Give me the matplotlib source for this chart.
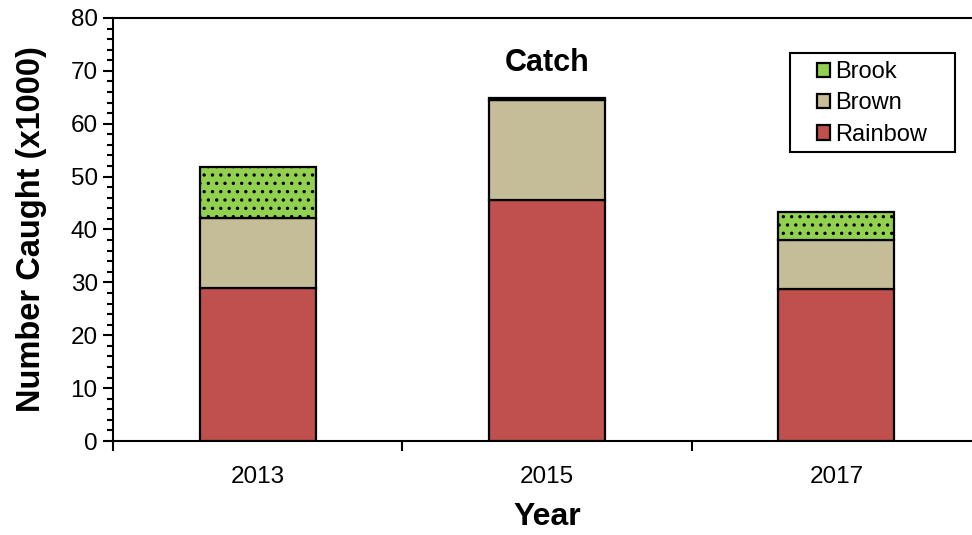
import matplotlib
matplotlib.use("Agg")
import matplotlib.pyplot as plt
import numpy as np
from matplotlib.ticker import MultipleLocator, FixedLocator
from matplotlib.patches import Rectangle

plt.rcParams['font.family'] = ['Liberation Sans', 'DejaVu Sans']
plt.rcParams['hatch.linewidth'] = 1.2

years = ["2013", "2015", "2017"]
rainbow = [29.0, 45.6, 28.8]
brown = [13.2, 18.9, 9.3]
brook = [9.6, 0.4, 5.3]

c_rainbow = "#C0504D"
c_brown = "#C4BD97"
c_brook = "#92D050"

W, H = 972, 535
fig = plt.figure(figsize=(W/100, H/100), dpi=100)
ax = fig.add_axes([113/W, 1-441/H, (981-113)/W, (441-18)/H])

x = np.arange(len(years))
w = 0.4
lw = 1.6
ax.bar(x, rainbow, w, color=c_rainbow, edgecolor="black", linewidth=lw, label="Rainbow", zorder=3)
b1 = np.array(rainbow)
ax.bar(x, brown, w, bottom=b1, color=c_brown, edgecolor="black", linewidth=lw, label="Brown", zorder=3)
b2 = b1 + np.array(brown)
ax.bar(x, brook, w, bottom=b2, color=c_brook, edgecolor="black", linewidth=lw, hatch="..", label="Brook", zorder=3)

ax.set_xlim(-0.5, 2.5)
ax.set_ylim(0, 80)
ax.yaxis.set_major_locator(MultipleLocator(10))
ax.yaxis.set_minor_locator(MultipleLocator(2))
ax.tick_params(axis='y', which='major', direction='out', length=7, width=1.5, labelsize=17.5, pad=4)
ax.tick_params(axis='y', which='minor', direction='out', length=4, width=1.5)
ax.xaxis.set_major_locator(FixedLocator([-0.5, 0.5, 1.5, 2.5]))
ax.xaxis.set_minor_locator(FixedLocator(x))
ax.tick_params(axis='x', which='major', direction='out', length=7, width=1.5, labelbottom=False)
ax.tick_params(axis='x', which='minor', length=0, labelsize=17.5, pad=18)
ax.set_xticklabels(years, minor=True)
for s in ax.spines.values():
    s.set_linewidth(1.5)

ax.set_xlabel("Year", fontsize=23, fontweight='bold', labelpad=10)
ax.set_ylabel("Number Caught (x1000)", fontsize=23.5, fontweight='bold', labelpad=17)
ax.text(1, 71.5, "Catch", ha='center', va='center', fontsize=22, fontweight='bold')

# legend box
def ax_frac(px, py):
    return ((px-113)/(981-113), (441-py)/(441-18))
x0, y0 = ax_frac(790, 152)
x1, y1 = ax_frac(955, 53)
ax.add_patch(Rectangle((x0, y0), x1-x0, y1-y0, transform=ax.transAxes, facecolor='white',
                       edgecolor='black', linewidth=1.5, zorder=4))

handles, labels = ax.get_legend_handles_labels()
lx, ly = ax_frac(817, 61)
leg = ax.legend(handles[::-1], labels[::-1], loc='upper left', bbox_to_anchor=(lx, ly),
                fontsize=17, frameon=False,
                handlelength=0.55, handleheight=0.55, handletextpad=0.2, borderpad=0.0, labelspacing=0.4,
                borderaxespad=0)
leg.set_zorder(5)
for h in leg.legend_handles:
    h.set_hatch(None)

fig.savefig("out.png", dpi=100)
